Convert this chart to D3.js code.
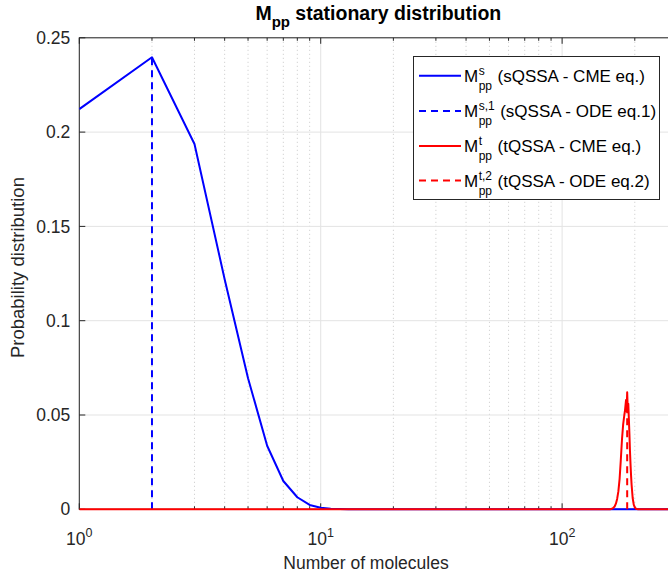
<!DOCTYPE html>
<html>
<head>
<meta charset="utf-8">
<script src="https://cdn.jsdelivr.net/npm/d3@7"></script>
<style>
  body { margin: 0; background: #fff; }
  svg { display: block; font-family: "Liberation Sans", Arial, sans-serif; }
</style>
</head>
<body>
<svg id="chart" width="668" height="575"></svg>
<script>
// blue: sQSSA CME distribution
const sN = [1, 2, 3, 4, 5, 6, 7, 8, 9, 10, 11, 12, 13, 15, 20, 50, 100, 150, 200, 250, 300];
const sP = [0.2122, 0.2397, 0.1937, 0.122, 0.0695, 0.0337, 0.015, 0.0064, 0.0023, 0.0008, 0.0003, 0.0001, 0, 0, 0, 0, 0, 0, 0, 0, 0];

// red: tQSSA CME distribution
const tN = [1, 10, 100, 158, 162, 165, 167, 169, 171, 173, 175, 177, 179, 181, 182, 183, 184, 185, 186, 187, 188, 189, 190, 191, 192, 193, 194, 196, 198, 200, 203, 207, 250, 300];
const tP = [0, 0, 0, 0, 0.0005, 0.0015, 0.003, 0.0055, 0.0095, 0.016, 0.026, 0.037, 0.045, 0.050, 0.052, 0.055, 0.058, 0.052, 0.062, 0.053, 0.056, 0.048, 0.040, 0.031, 0.024, 0.018, 0.013, 0.006, 0.0025, 0.001, 0.0002, 0, 0, 0];

// ODE steady states (vertical lines)
const odeS = { n: 2, p: 0.2397 };
const odeT = { n: 186, p: 0.055 };

const yTicks = [0, 0.05, 0.1, 0.15, 0.2, 0.25];
const yTickLabels = ["0", "0.05", "0.1", "0.15", "0.2", "0.25"];
const xTicks = [1, 10, 100];
const xTickExp = ["0", "1", "2"];
const xMinor = [2, 3, 4, 5, 6, 7, 8, 9, 20, 30, 40, 50, 60, 70, 80, 90, 200, 300];

const legendItems = [
  { sup: "s", rest: "(sQSSA - CME eq.)", color: "#0000ff", dash: null },
  { sup: "s,1", rest: "(sQSSA - ODE eq.1)", color: "#0000ff", dash: "7,5" },
  { sup: "t", rest: "(tQSSA - CME eq.)", color: "#ff0000", dash: null },
  { sup: "t,2", rest: "(tQSSA - ODE eq.2)", color: "#ff0000", dash: "7,5" }
];

const svg = d3.select("#chart");
const textColor = "#262626";

const pLeft = 79.3, pRight = 677.3, pTop = 37.8, pBottom = 509.3;

const x = d3.scaleLog().domain([1, 300]).range([pLeft, pRight]);
const y = d3.scaleLinear().domain([0, 0.25]).range([pBottom, pTop]);

const g = svg.append("g");

// grid
g.selectAll(".minor-grid").data(xMinor).enter().append("line")
  .attr("x1", d => x(d)).attr("x2", d => x(d))
  .attr("y1", pTop).attr("y2", pBottom)
  .attr("stroke", "#c8c8c8").attr("stroke-width", 1)
  .attr("stroke-dasharray", "1,3");

g.selectAll(".major-xgrid").data(xTicks).enter().append("line")
  .attr("x1", d => x(d)).attr("x2", d => x(d))
  .attr("y1", pTop).attr("y2", pBottom)
  .attr("stroke", "#e3e3e3").attr("stroke-width", 1);

g.selectAll(".major-ygrid").data(yTicks).enter().append("line")
  .attr("x1", pLeft).attr("x2", pRight)
  .attr("y1", d => y(d)).attr("y2", d => y(d))
  .attr("stroke", "#e3e3e3").attr("stroke-width", 1);

// axes frame
g.append("rect")
  .attr("x", pLeft).attr("y", pTop)
  .attr("width", pRight - pLeft).attr("height", pBottom - pTop)
  .attr("fill", "none").attr("stroke", textColor).attr("stroke-width", 1);

// ticks (inward)
const tickG = g.append("g").attr("stroke", textColor).attr("stroke-width", 1);
xTicks.forEach(v => {
  tickG.append("line").attr("x1", x(v)).attr("x2", x(v)).attr("y1", pBottom).attr("y2", pBottom - 6);
  tickG.append("line").attr("x1", x(v)).attr("x2", x(v)).attr("y1", pTop).attr("y2", pTop + 6);
});
xMinor.forEach(v => {
  tickG.append("line").attr("x1", x(v)).attr("x2", x(v)).attr("y1", pBottom).attr("y2", pBottom - 3);
  tickG.append("line").attr("x1", x(v)).attr("x2", x(v)).attr("y1", pTop).attr("y2", pTop + 3);
});
yTicks.forEach(v => {
  tickG.append("line").attr("x1", pLeft).attr("x2", pLeft + 6).attr("y1", y(v)).attr("y2", y(v));
});

// tick labels
g.selectAll(".ylab").data(yTicks).enter().append("text")
  .attr("x", pLeft - 9).attr("y", d => y(d))
  .attr("dy", "0.35em")
  .attr("text-anchor", "end")
  .attr("font-size", 17.5)
  .attr("fill", textColor)
  .text((d, i) => yTickLabels[i]);

xTicks.forEach((v, i) => {
  const t = g.append("text")
    .attr("x", x(v)).attr("y", 545)
    .attr("text-anchor", "middle")
    .attr("font-size", 17.5)
    .attr("fill", textColor);
  t.append("tspan").text("10");
  t.append("tspan").attr("font-size", 12.5).attr("dy", -8).text(xTickExp[i]);
});

// axis titles
g.append("text")
  .attr("x", 366).attr("y", 569)
  .attr("text-anchor", "middle")
  .attr("font-size", 17.5)
  .attr("fill", textColor)
  .text("Number of molecules");

g.append("text")
  .attr("transform", "translate(24," + ((pTop + pBottom) / 2 - 6) + ") rotate(-90)")
  .attr("text-anchor", "middle")
  .attr("font-size", 18.5)
  .attr("fill", textColor)
  .text("Probability distribution");

// title
const title = g.append("text")
  .attr("x", (pLeft + pRight) / 2).attr("y", 20)
  .attr("text-anchor", "middle")
  .attr("font-size", 19.5)
  .attr("font-weight", "bold")
  .attr("fill", "#000");
title.append("tspan").text("M");
title.append("tspan").attr("font-size", 15).attr("dy", 7).text("pp");
title.append("tspan").attr("dy", -7).text(" stationary distribution");

// curves
const clipId = "plot-clip";
svg.append("defs").append("clipPath").attr("id", clipId)
  .append("rect").attr("x", pLeft).attr("y", pTop - 2)
  .attr("width", pRight - pLeft).attr("height", pBottom - pTop + 4);

const plot = g.append("g").attr("clip-path", "url(#" + clipId + ")");

const line = d3.line()
  .x(d => x(d[0]))
  .y(d => y(d[1]));

plot.append("path")
  .datum(sN.map((n, i) => [n, sP[i]]))
  .attr("fill", "none")
  .attr("stroke", "#0000ff")
  .attr("stroke-width", 2)
  .attr("stroke-linejoin", "round")
  .attr("d", line);

plot.append("line")
  .attr("x1", x(odeS.n)).attr("x2", x(odeS.n))
  .attr("y1", y(0)).attr("y2", y(odeS.p))
  .attr("stroke", "#0000ff").attr("stroke-width", 2)
  .attr("stroke-dasharray", "7,5");

plot.append("path")
  .datum(tN.map((n, i) => [n, tP[i]]))
  .attr("fill", "none")
  .attr("stroke", "#ff0000")
  .attr("stroke-width", 2)
  .attr("stroke-linejoin", "round")
  .attr("d", line);

plot.append("line")
  .attr("x1", x(odeT.n)).attr("x2", x(odeT.n))
  .attr("y1", y(0)).attr("y2", y(odeT.p))
  .attr("stroke", "#ff0000").attr("stroke-width", 2)
  .attr("stroke-dasharray", "7,5");

// legend
const lg = g.append("g");
lg.append("rect")
  .attr("x", 413.5).attr("y", 56.5)
  .attr("width", 246).attr("height", 143)
  .attr("fill", "#fff").attr("stroke", textColor).attr("stroke-width", 1);

const rowY = [75.7, 111, 146, 180.5];
legendItems.forEach((it, i) => {
  const cy = rowY[i];
  lg.append("line")
    .attr("x1", 419).attr("x2", 461)
    .attr("y1", cy).attr("y2", cy)
    .attr("stroke", it.color).attr("stroke-width", 2)
    .attr("stroke-dasharray", it.dash);
  const m = lg.append("text")
    .attr("x", 464).attr("y", cy + 6)
    .attr("font-size", 17).attr("fill", "#000")
    .text("M");
  const mw = m.node().getComputedTextLength();
  const sup = lg.append("text")
    .attr("x", 464 + mw + 0.5).attr("y", cy - 1)
    .attr("font-size", 12).attr("fill", "#000")
    .text(it.sup);
  const sub = lg.append("text")
    .attr("x", 464 + mw + 0.5).attr("y", cy + 14)
    .attr("font-size", 12).attr("fill", "#000")
    .text("pp");
  const w = Math.max(sup.node().getComputedTextLength(), sub.node().getComputedTextLength());
  lg.append("text")
    .attr("x", 464 + mw + w + 6).attr("y", cy + 6)
    .attr("font-size", 17).attr("fill", "#000")
    .text(it.rest);
});
</script>
</body>
</html>
